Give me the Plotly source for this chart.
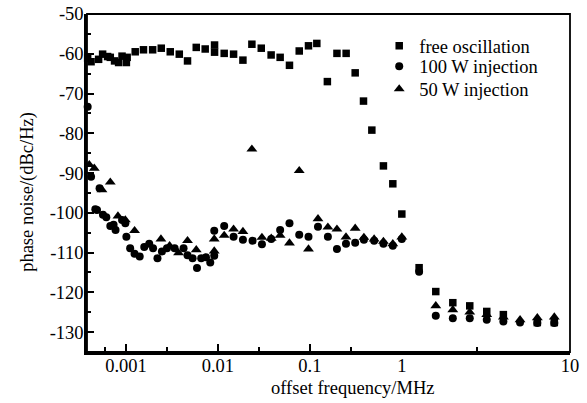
import numpy as np
import plotly.graph_objects as go

# ---------------- data ----------------
free_f = [0.000383, 0.000417, 0.000504, 0.000557, 0.000631, 0.000675, 0.000751, 0.000831, 0.000906, 0.00101,
          0.00103, 0.00126, 0.00155, 0.00195, 0.00242, 0.00303, 0.0038, 0.00467, 0.00581, 0.00727,
          0.00919, 0.00919, 0.0117, 0.0148, 0.0187, 0.0234, 0.0296, 0.0379, 0.0475, 0.060,
          0.0766, 0.0966, 0.119, 0.155, 0.197, 0.248, 0.311, 0.383, 0.472, 0.631,
          0.798, 1.0, 1.267, 1.592, 2.01, 2.535, 3.199, 4.016, 6.393, 8.067]
free_db = [-61.1, -62.0, -61.4, -60.1, -60.7, -60.9, -61.8, -62.2, -60.6, -62.2,
           -60.9, -59.5, -59.0, -59.0, -58.6, -59.5, -60.1, -61.8, -58.4, -58.8,
           -57.8, -59.6, -59.9, -60.1, -61.6, -57.6, -58.6, -60.3, -60.9, -62.9,
           -59.3, -58.0, -57.4, -67.0, -59.9, -59.9, -64.8, -71.9, -79.2, -88.2,
           -92.7, -100.3, -113.8, -119.8, -122.6, -123.4, -124.8, -125.6, -127.6, -127.6]

inj100_f = [0.000383, 0.000417, 0.000464, 0.000484, 0.000516, 0.000562, 0.000611, 0.000675, 0.000733, 0.00077,
            0.000906, 0.000984, 0.00101, 0.00111, 0.00124, 0.00141, 0.00158, 0.00179, 0.00197, 0.0022,
            0.00246, 0.00279, 0.00338, 0.00423, 0.00467, 0.0053, 0.00592, 0.00658, 0.00741, 0.00825,
            0.00912, 0.00912, 0.0117, 0.0148, 0.0187, 0.0238, 0.0301, 0.038, 0.0475, 0.060,
            0.0766, 0.0966, 0.1225, 0.157, 0.197, 0.247, 0.311, 0.387, 0.50, 0.631,
            0.798, 1.0, 1.267, 1.592, 2.01, 2.535, 3.199, 4.016, 5.046, 6.393, 8.067]
inj100_db = [-73.3, -90.9, -99.1, -99.3, -93.8, -100.5, -101.1, -103.3, -103.0, -104.3,
             -101.8, -102.6, -106.0, -108.9, -110.3, -111.0, -108.6, -107.8, -108.9, -111.4,
             -109.7, -108.9, -108.9, -108.9, -110.7, -111.4, -113.9, -111.4, -111.2, -112.5,
             -110.8, -104.5, -103.3, -106.0, -106.8, -107.0, -107.9, -106.6, -104.3, -102.6,
             -105.5, -106.0, -103.5, -106.0, -109.1, -107.8, -107.5, -106.8, -107.0, -107.8,
             -108.3, -106.6, -114.8, -125.9, -126.5, -126.5, -126.9, -127.3, -127.6, -127.7, -127.7]

inj50_f = [0.000399, 0.000452, 0.000548, 0.000675, 0.000818, 0.000984, 0.00124, 0.0024, 0.00298, 0.00373,
           0.00467, 0.00581, 0.00727, 0.00912, 0.00912, 0.0117, 0.0148, 0.0187, 0.0234, 0.0301,
           0.038, 0.0475, 0.060, 0.0766, 0.0966, 0.1225, 0.157, 0.197, 0.247, 0.311,
           0.387, 0.50, 0.631, 0.798, 1.0, 1.592, 2.01, 2.535, 3.199, 4.016,
           5.046, 6.393, 8.067]
inj50_db = [-87.9, -88.8, -94.2, -92.3, -100.8, -101.8, -104.5, -106.6, -108.3, -110.1,
            -107.0, -109.3, -111.4, -109.6, -106.6, -105.7, -104.1, -104.7, -84.0, -106.2,
            -106.4, -105.7, -107.6, -89.4, -109.1, -101.5, -103.6, -104.1, -106.1, -103.9,
            -106.2, -106.6, -107.2, -107.8, -106.1, -123.4, -124.4, -125.0, -125.6, -126.2,
            -126.9, -126.4, -126.2]

series_names = ["free oscillation", "100 W injection", "50 W injection"]

x_ticks_low = [0.001, 0.01, 0.1]
x_ticktext_low = ["0.001", "0.01", "0.1"]
x_minor_low = [0.00059, 0.0028, 0.028, 0.28]
x_ticks_high = [1, 10]
x_ticktext_high = ["1", "10"]
x_minor_high = [2.79]
y_ticks = [-130, -120, -110, -100, -90, -80, -70, -60, -50]
y_ticktext = ["-130", "-120", "-110", "-100", "-90", "-80", "-70", "-60", "-50"]
y_minor = [-125, -115, -105, -95, -85, -75, -65, -55]

# ---------------- figure ----------------
FONT = "Liberation Serif, Times New Roman, serif"
FS = 18.5
split = 0.6518  # the original axis uses a wider scale for the 1-10 MHz decade

fig = go.Figure()
specs = [
    (free_f, free_db, "square", 7.5, "legend", 0.905),
    (inj100_f, inj100_db, "circle", 8, "legend2", 0.844),
    (inj50_f, inj50_db, "triangle-up", 9.5, "legend3", 0.777),
]
for name, (f, v, sym, sz, leg, ly) in zip(series_names, specs):
    f = np.array(f)
    v = np.array(v)
    lo = f <= 1.0
    hi = f > 1.0
    marker = dict(symbol=sym, size=sz, color="black", line=dict(width=0))
    fig.add_trace(go.Scatter(x=f[lo], y=v[lo], mode="markers", name=name, marker=marker,
                             xaxis="x", yaxis="y", cliponaxis=False, legendgroup=name,
                             legend=leg))
    fig.add_trace(go.Scatter(x=f[hi], y=v[hi], mode="markers", name=name, marker=marker,
                             xaxis="x2", yaxis="y", cliponaxis=False, legendgroup=name,
                             showlegend=False, legend=leg))
    fig.update_layout({leg: dict(x=0.605, y=ly, xanchor="left", yanchor="middle",
                                 bgcolor="rgba(0,0,0,0)",
                                 font=dict(family=FONT, size=FS, color="black"))})

axis_common = dict(showgrid=False, zeroline=False, showline=True, linecolor="black",
                   linewidth=2.5, ticks="inside", tickcolor="black", tickwidth=1.5,
                   automargin=False,
                   tickfont=dict(family=FONT, size=FS, color="black"))

fig.update_layout(
    width=587, height=403,
    margin=dict(l=87, r=17, t=14, b=51),
    paper_bgcolor="white", plot_bgcolor="white",
    font=dict(family=FONT, size=FS, color="black"),
    xaxis=dict(type="log", range=[-3.424, 0], domain=[0, split], anchor="y",
               tickmode="array", tickvals=x_ticks_low, ticktext=x_ticktext_low, ticklen=8,
               ticklabelstandoff=-5,
               minor=dict(tickmode="array", tickvals=x_minor_low, ticks="inside", ticklen=5,
                          tickwidth=1.5, tickcolor="black", showgrid=False),
               **axis_common),
    xaxis2=dict(type="log", range=[0, 1], domain=[split, 1], anchor="y",
                tickmode="array", tickvals=x_ticks_high, ticktext=x_ticktext_high, ticklen=8,
                ticklabelstandoff=-5,
                minor=dict(tickmode="array", tickvals=x_minor_high, ticks="inside", ticklen=5,
                           tickwidth=1.5, tickcolor="black", showgrid=False),
                **axis_common),
    yaxis=dict(range=[-135, -50], anchor="x", tickmode="array", tickvals=y_ticks,
               ticktext=y_ticktext, ticklen=7, ticklabelstandoff=-3,
               minor=dict(tickmode="array", tickvals=y_minor, ticks="inside", ticklen=4,
                          tickwidth=1.5, tickcolor="black", showgrid=False),
               **axis_common),
    showlegend=True,
)

# frame (top/right borders)
fig.add_shape(type="rect", xref="paper", yref="paper", x0=0, x1=1, y0=0, y1=1,
              line=dict(color="black", width=1.8), layer="above")

fig.add_annotation(text="offset frequency/MHz", xref="paper", yref="paper",
                   x=0.551, y=-0.1065, xanchor="center", yanchor="middle", showarrow=False,
                   font=dict(family=FONT, size=FS, color="black"))
fig.add_annotation(text="phase noise/(dBc/Hz)", xref="paper", yref="paper",
                   x=-0.122, y=0.474, xanchor="center", yanchor="middle", showarrow=False,
                   textangle=-90, font=dict(family=FONT, size=FS, color="black"))

fig.write_html("out.html", config={"displayModeBar": False},
               post_script="document.body.style.margin='0px';")
